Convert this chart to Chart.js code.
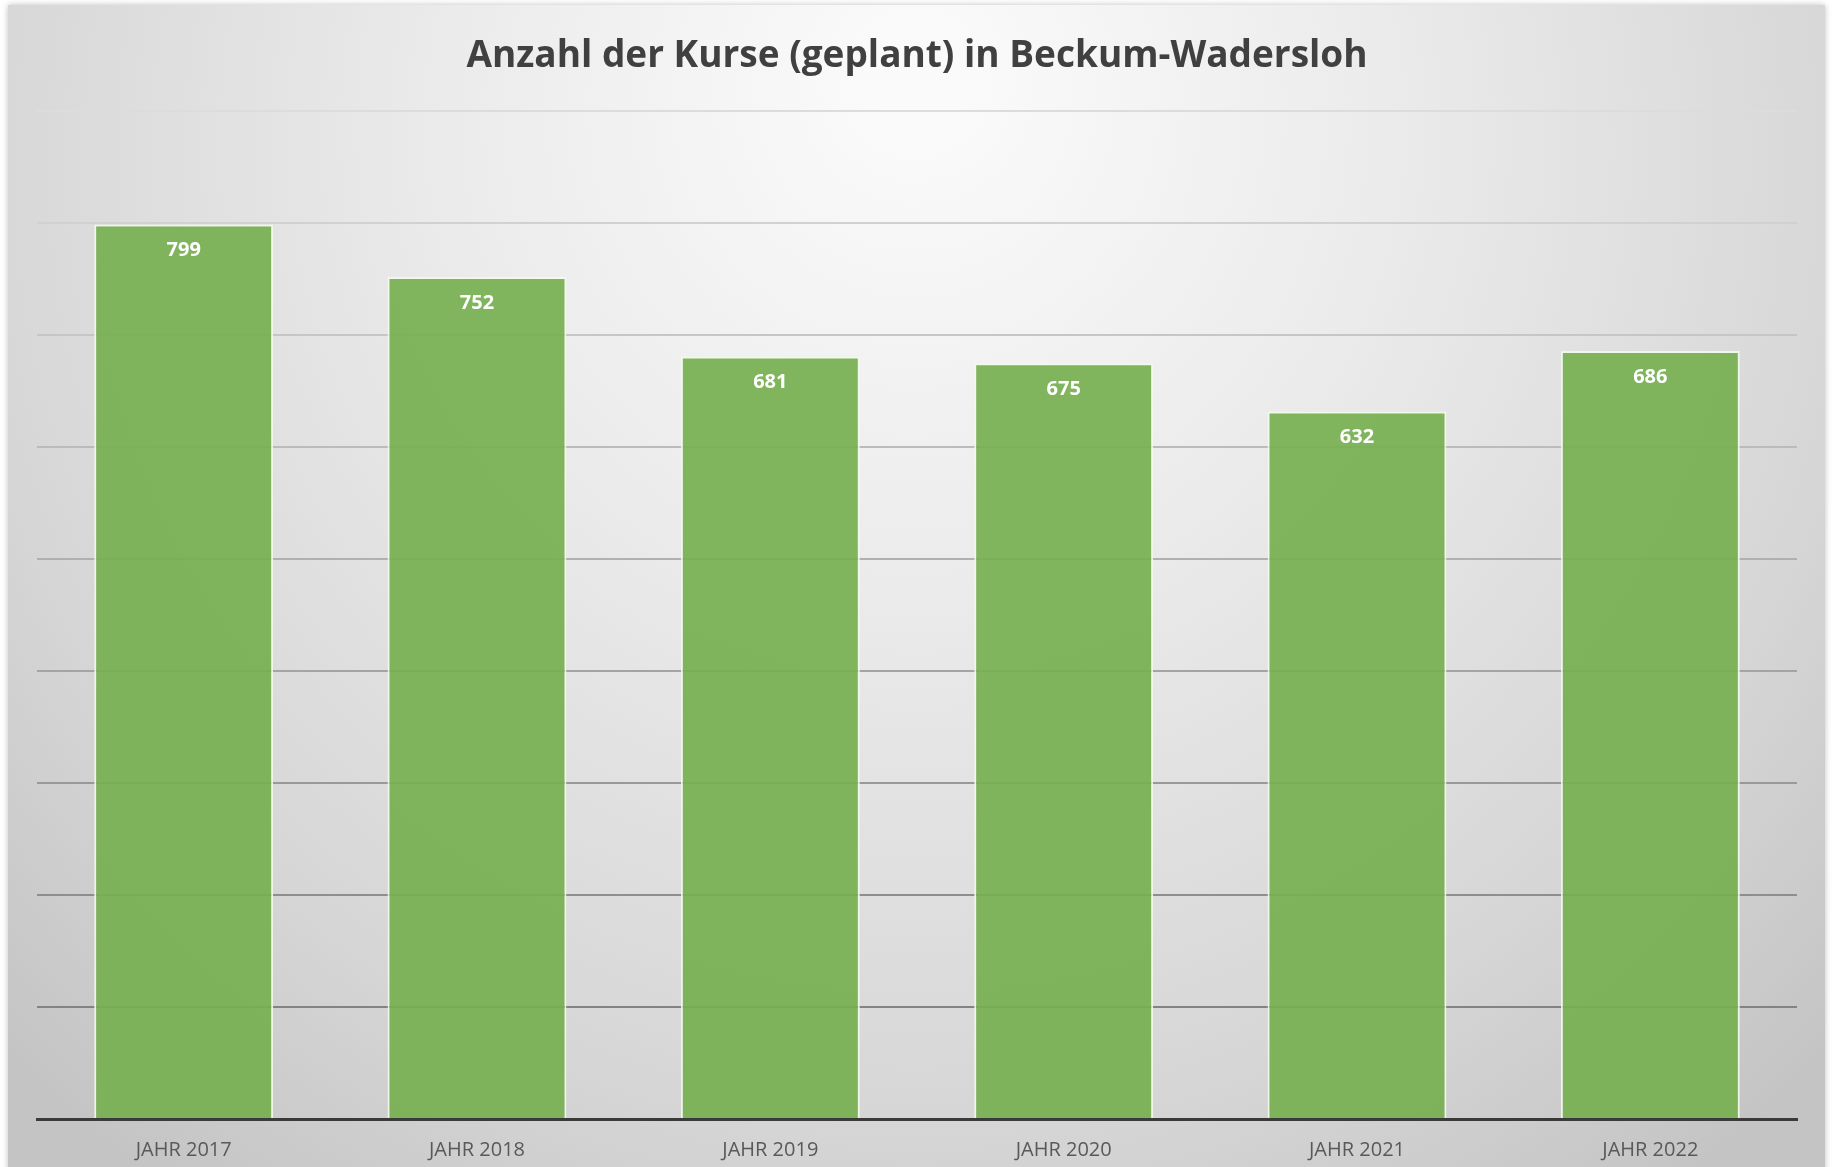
<!DOCTYPE html>
<html>
<head>
<meta charset="utf-8">
<script src="https://cdn.jsdelivr.net/npm/chart.js@4"></script>
<style>
  html, body { margin: 0; padding: 0; background: #ffffff; }
  #wrap { position: relative; width: 1832px; height: 1167px; }
</style>
</head>
<body>
<div id="wrap"><canvas id="kurseChart"></canvas></div>
<script>
const categories = ['JAHR 2017', 'JAHR 2018', 'JAHR 2019', 'JAHR 2020', 'JAHR 2021', 'JAHR 2022'];
const kurse = [799, 752, 681, 675, 632, 686];
const yTicks = [0, 100, 200, 300, 400, 500, 600, 700, 800, 900];

// grey panel with a soft light spot near the top middle
const panelBackground = {
    id: 'panelBackground',
    beforeDraw(chart) {
        const ctx = chart.ctx;
        ctx.save();
        const g = ctx.createRadialGradient(916, 80, 50, 916, 200, 1250);
        g.addColorStop(0, '#fafafa');
        g.addColorStop(0.35, '#ebebeb');
        g.addColorStop(0.75, '#d6d6d6');
        g.addColorStop(1, '#c4c4c4');
        ctx.shadowColor = 'rgba(0,0,0,0.25)';
        ctx.shadowBlur = 6;
        ctx.fillStyle = g;
        ctx.fillRect(8, 5, 1817, 1170);
        ctx.restore();
    }
};

// value labels inside the top of each bar
const barLabels = {
    id: 'barLabels',
    afterDatasetsDraw(chart) {
        const ctx = chart.ctx;
        const meta = chart.getDatasetMeta(0);
        ctx.save();
        ctx.font = 'bold 20px "Open Sans"';
        ctx.fillStyle = '#ffffff';
        ctx.textAlign = 'center';
        ctx.textBaseline = 'middle';
        meta.data.forEach((bar, i) => {
            ctx.fillText(kurse[i], bar.x, bar.y + 26);
        });
        ctx.restore();
    }
};

const ctx = document.getElementById('kurseChart').getContext('2d');
const chart = new Chart(ctx, {
    type: 'bar',
    data: {
        labels: categories,
        datasets: [{
            label: 'Anzahl der Kurse',
            data: kurse,
            backgroundColor: 'rgba(118, 176, 80, 0.92)',
            borderColor: 'rgba(240, 250, 235, 0.9)',
            borderWidth: { top: 2, left: 2, right: 2, bottom: 0 },
            borderSkipped: 'bottom',
            categoryPercentage: 0.61,
            barPercentage: 1.0
        }]
    },
    options: {
        responsive: true,
        maintainAspectRatio: false,
        animation: false,
        layout: { padding: { top: 0, left: 37, right: 35, bottom: 0 } },
        plugins: {
            legend: { display: false },
            tooltip: { enabled: false },
            title: {
                display: true,
                text: 'Anzahl der Kurse (geplant) in Beckum-Wadersloh',
                color: '#404040',
                font: { family: '"Open Sans"', size: 37, weight: 'bold' },
                padding: { top: 34, bottom: 33 }
            }
        },
        scales: {
            x: {
                grid: { display: false, drawTicks: false },
                border: { display: true, color: '#3a3a3a', width: 3 },
                ticks: {
                    color: '#595959',
                    font: { family: '"Open Sans"', size: 20 },
                    padding: 19
                },
                afterFit(axis) {
                    axis.height = 48;
                }
            },
            y: {
                min: yTicks[0],
                max: yTicks[yTicks.length - 1],
                afterBuildTicks(axis) {
                    axis.ticks = yTicks.map(v => ({ value: v }));
                },
                border: { display: false },
                grid: {
                    drawTicks: false,
                    lineWidth: 2,
                    color(c) {
                        // lines get darker toward the bottom like the reference
                        const t = c.tick ? c.tick.value / 900 : 0;
                        const v = Math.round(120 + t * 100);
                        return 'rgb(' + v + ',' + v + ',' + v + ')';
                    }
                },
                ticks: { display: false }
            }
        }
    },
    plugins: [panelBackground, barLabels]
});
</script>
</body>
</html>
